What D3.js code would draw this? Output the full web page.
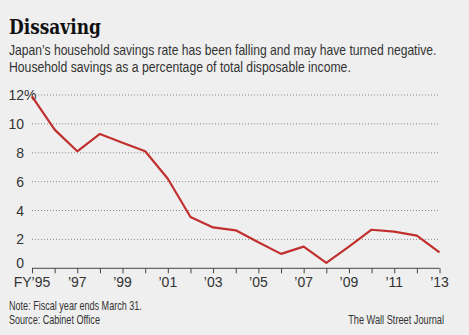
<!DOCTYPE html>
<html>
<head>
<meta charset="utf-8">
<script src="https://cdn.jsdelivr.net/npm/d3@7"></script>
<style>
  html, body { margin: 0; padding: 0; background: #efefef; }
  svg { display: block; }
  .sans { font-family: "Liberation Sans", "Noto Sans", sans-serif; }
</style>
</head>
<body>
<script>
const years = d3.range(1995, 2014);
const savingsRate = [11.9, 9.6, 8.1, 9.3, 8.7, 8.1, 6.2, 3.55, 2.83, 2.63, 1.8, 1.0, 1.5, 0.37, 1.5, 2.67, 2.54, 2.26, 1.1];
const yTicks = [0, 2, 4, 6, 8, 10, 12];
const xLabelYears = [1995, 1997, 1999, 2001, 2003, 2005, 2007, 2009, 2011, 2013];

const width = 469, height = 335;

const svg = d3.select("body").append("svg")
  .attr("width", width)
  .attr("height", height);

svg.append("rect")
  .attr("width", width)
  .attr("height", height)
  .attr("fill", "#efefef");

// squeeze a text horizontally to the narrow face of the original
function fitText(g, d) {
  const t = g.append("text")
    .attr("text-anchor", d.a || "start")
    .attr("font-size", d.size)
    .attr("fill", d.fill || "#333")
    .text(d.t);
  const k = d.w / t.node().getComputedTextLength();
  g.attr("transform", `translate(${d.x},${d.y}) scale(${k},1)`);
}

// header
const title = svg.append("g")
  .attr("font-family", "DejaVu Serif, serif")
  .attr("font-weight", "bold");
fitText(title, {t: "Dissaving", x: 9, y: 34, w: 92, size: 20, fill: "#111"});

const subtitle = [
  {t: "Japan\u2019s household savings rate has been falling and may have turned negative.", x: 9, y: 55, w: 428, size: 14},
  {t: "Household savings as a percentage of total disposable income.", x: 9, y: 72, w: 342, size: 14}
];
subtitle.forEach(d => fitText(svg.append("g").attr("class", "sans"), d));

const x = d3.scaleLinear().domain([1995, 2013]).range([32, 439.5]);
const y = d3.scaleLinear().domain([0, 12]).range([268.3, 95]);

// grid
svg.append("g")
  .selectAll("line")
  .data(yTicks.filter(d => d > 0))
  .join("line")
  .attr("x1", x(1995))
  .attr("x2", 440)
  .attr("y1", d => y(d))
  .attr("y2", d => y(d))
  .attr("stroke", "#8a8a8a")
  .attr("stroke-width", 1)
  .attr("stroke-dasharray", "1,2");

// y labels
svg.append("g")
  .attr("class", "sans")
  .selectAll("text")
  .data(yTicks)
  .join("text")
  .attr("x", 24)
  .attr("y", d => y(d) + (d === 0 ? 0 : 5))
  .attr("text-anchor", "end")
  .attr("font-size", 14)
  .attr("fill", "#333")
  .text(d => d);

svg.append("text")
  .attr("class", "sans")
  .attr("x", 24)
  .attr("y", y(12) + 5)
  .attr("font-size", 14)
  .attr("fill", "#333")
  .text("%");

// x axis
const xAxis = d3.axisBottom(x)
  .tickValues(years)
  .tickSize(5)
  .tickFormat("");
const axisG = svg.append("g")
  .attr("transform", `translate(0,${y(0)})`)
  .call(xAxis);
axisG.select(".domain").attr("stroke", "#444").attr("d", `M${x(1995)},0H${x(2013)}`);
axisG.selectAll(".tick line").attr("stroke", "#444");

svg.append("g")
  .attr("class", "sans")
  .selectAll("text")
  .data(xLabelYears)
  .join("text")
  .attr("x", d => x(d))
  .attr("y", 287)
  .attr("text-anchor", "middle")
  .attr("font-size", 14)
  .attr("fill", "#333")
  .text(d => (d === 1995 ? "FY" : "") + "\u2019" + String(d).slice(2));

// line
svg.append("path")
  .datum(savingsRate)
  .attr("fill", "none")
  .attr("stroke", "#c0302e")
  .attr("stroke-width", 2.2)
  .attr("stroke-linejoin", "round")
  .attr("d", d3.line().x((d, i) => x(years[i])).y(d => y(d)));

// footer
const footer = [
  {t: "Note: Fiscal year ends March 31.", x: 9, y: 310, w: 133, size: 12.5},
  {t: "Source: Cabinet Office", x: 9, y: 324, w: 91, size: 12.5},
  {t: "The Wall Street Journal", x: 444, y: 324, w: 96, size: 12.5, a: "end"}
];
footer.forEach(d => fitText(svg.append("g").attr("class", "sans"), d));
</script>
</body>
</html>
